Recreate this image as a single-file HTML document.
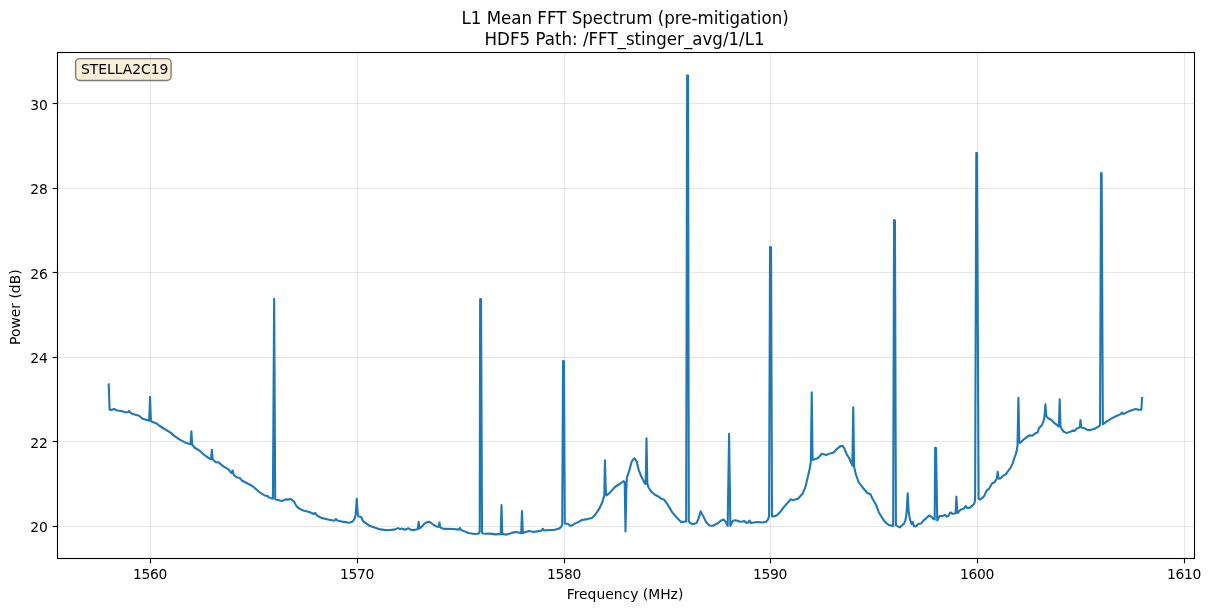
<!DOCTYPE html>
<html lang="en">
<head>
<meta charset="utf-8">
<title>L1 Mean FFT Spectrum (pre-mitigation)</title>
<style>
html,body{margin:0;padding:0;background:#fff;}
body{width:1211px;height:611px;overflow:hidden;}
svg{display:block;}
text{font-family:"DejaVu Sans","Liberation Sans",sans-serif;fill:#000;}
.t10{font-size:13.889px;}
.t12{font-size:16.667px;}
</style>
</head>
<body>
<svg width="1211" height="611" viewBox="0 0 1211 611">
<rect x="0" y="0" width="1211" height="611" fill="#ffffff"/>

<g stroke="#b0b0b0" stroke-opacity="0.3" stroke-width="1.111" fill="none">
<line x1="150.50" y1="52.50" x2="150.50" y2="558.50"/>
<line x1="357.50" y1="52.50" x2="357.50" y2="558.50"/>
<line x1="564.50" y1="52.50" x2="564.50" y2="558.50"/>
<line x1="770.50" y1="52.50" x2="770.50" y2="558.50"/>
<line x1="977.50" y1="52.50" x2="977.50" y2="558.50"/>
<line x1="1184.50" y1="52.50" x2="1184.50" y2="558.50"/>
<line x1="57.50" y1="526.50" x2="1194.50" y2="526.50"/>
<line x1="57.50" y1="441.50" x2="1194.50" y2="441.50"/>
<line x1="57.50" y1="357.50" x2="1194.50" y2="357.50"/>
<line x1="57.50" y1="272.50" x2="1194.50" y2="272.50"/>
<line x1="57.50" y1="188.50" x2="1194.50" y2="188.50"/>
<line x1="57.50" y1="103.50" x2="1194.50" y2="103.50"/>
</g>
<g stroke="#000" stroke-width="1.111" fill="none">
<line x1="150.50" y1="558.50" x2="150.50" y2="563.36"/>
<line x1="357.50" y1="558.50" x2="357.50" y2="563.36"/>
<line x1="564.50" y1="558.50" x2="564.50" y2="563.36"/>
<line x1="770.50" y1="558.50" x2="770.50" y2="563.36"/>
<line x1="977.50" y1="558.50" x2="977.50" y2="563.36"/>
<line x1="1184.50" y1="558.50" x2="1184.50" y2="563.36"/>
<line x1="52.64" y1="526.50" x2="57.50" y2="526.50"/>
<line x1="52.64" y1="441.50" x2="57.50" y2="441.50"/>
<line x1="52.64" y1="357.50" x2="57.50" y2="357.50"/>
<line x1="52.64" y1="272.50" x2="57.50" y2="272.50"/>
<line x1="52.64" y1="188.50" x2="57.50" y2="188.50"/>
<line x1="52.64" y1="103.50" x2="57.50" y2="103.50"/>
</g>
<path d="M108.70 384.40 L109.60 409.80 L111.40 409.90 L113.90 409.00 L117.30 410.50 L122.80 411.20 L123.80 412.10 L127.75 412.30 L129.20 410.90 L130.20 412.70 L132.70 414.10 L139.10 415.80 L142.60 418.80 L148.60 420.40 L149.20 420.60 L150.05 396.70 L150.90 421.00 L151.50 421.60 L156.50 423.40 L159.70 426.00 L170.90 432.90 L174.90 436.40 L179.80 439.60 L185.80 442.80 L189.70 444.10 L190.60 444.30 L191.40 431.40 L192.20 444.70 L194.70 447.75 L199.60 450.70 L204.60 455.20 L209.60 458.70 L210.70 458.90 L211.10 459.00 L211.90 449.70 L212.70 459.40 L213.00 459.60 L215.50 462.10 L218.50 462.40 L223.40 466.40 L228.40 469.40 L230.90 472.50 L231.90 473.00 L232.65 470.40 L233.40 473.80 L234.00 474.90 L236.40 477.30 L239.90 478.10 L241.90 480.50 L252.30 486.00 L258.70 491.50 L264.70 495.50 L267.20 495.90 L268.90 497.40 L272.00 498.60 L272.90 498.80 L274.15 298.70 L275.20 499.00 L275.90 499.40 L279.75 500.50 L282.40 500.90 L286.40 499.20 L287.70 499.70 L290.00 498.90 L292.00 499.80 L294.40 502.10 L296.40 506.10 L299.40 508.60 L303.30 510.50 L309.30 512.00 L313.70 514.00 L315.40 513.00 L317.00 515.50 L320.90 517.70 L327.90 519.50 L334.30 520.70 L336.00 519.00 L337.30 520.50 L343.70 521.90 L349.20 522.70 L352.70 521.50 L354.60 518.70 L355.60 514.70 L356.00 510.00 L356.80 498.90 L357.60 512.00 L358.10 516.20 L361.10 516.90 L363.10 521.20 L366.50 523.65 L369.50 525.80 L374.50 527.40 L380.40 529.40 L387.30 530.30 L394.30 529.60 L398.05 528.10 L400.20 529.10 L402.20 528.60 L404.70 529.80 L408.50 528.30 L411.10 529.90 L414.10 530.10 L417.10 529.30 L417.80 529.00 L418.65 521.80 L419.50 528.50 L420.00 528.00 L421.45 527.15 L424.45 523.60 L427.95 521.80 L429.95 521.95 L433.30 524.70 L436.80 526.70 L438.30 526.70 L438.70 526.80 L439.50 522.60 L440.30 527.30 L440.80 527.70 L443.70 528.90 L453.65 528.95 L458.60 529.60 L459.90 527.90 L461.10 530.10 L464.55 531.40 L468.50 533.00 L474.50 534.00 L477.80 533.70 L479.30 533.00 L479.70 531.00 L480.15 299.10 L481.05 299.30 L482.00 532.60 L482.60 533.20 L483.40 533.40 L485.40 533.80 L490.30 533.60 L495.30 534.40 L499.70 534.10 L500.70 534.20 L501.50 505.05 L502.30 534.20 L503.20 534.10 L505.20 534.60 L509.15 533.90 L512.10 532.60 L516.10 532.10 L520.55 533.10 L521.20 533.10 L522.00 511.00 L522.80 533.00 L523.50 532.70 L528.95 530.90 L533.90 531.90 L541.30 530.70 L543.00 528.80 L544.30 530.50 L549.70 530.05 L554.70 529.85 L559.15 528.60 L561.20 526.90 L562.20 524.80 L563.05 361.10 L563.95 361.30 L564.80 523.50 L565.60 523.60 L567.80 523.70 L569.90 525.60 L572.10 525.50 L574.40 523.70 L576.50 522.90 L579.00 521.70 L581.90 520.00 L587.40 519.10 L591.85 517.90 L595.30 514.70 L599.30 508.70 L602.30 502.30 L604.00 496.35 L604.35 494.50 L604.95 460.20 L605.75 490.50 L606.40 495.40 L609.20 493.40 L612.80 489.50 L614.90 487.00 L619.70 484.00 L623.65 481.20 L624.70 482.50 L625.50 531.60 L626.30 490.00 L626.90 477.60 L629.60 469.60 L631.60 461.70 L634.30 458.20 L636.80 461.70 L638.60 469.60 L641.30 476.50 L644.65 483.00 L645.70 484.00 L646.50 438.40 L647.30 482.00 L647.45 484.00 L648.45 487.50 L650.50 490.50 L651.90 492.30 L654.90 494.80 L658.80 496.80 L661.30 498.80 L664.30 499.80 L667.75 504.70 L672.20 512.20 L676.70 517.60 L681.10 521.90 L684.50 521.60 L686.15 521.40 L687.15 75.40 L688.05 75.60 L688.80 521.50 L689.25 521.80 L690.50 523.30 L693.00 524.30 L696.50 523.10 L698.50 518.60 L700.65 511.20 L703.40 516.60 L706.40 522.60 L709.40 525.55 L712.80 525.75 L717.30 523.60 L720.80 520.80 L723.50 519.50 L725.50 521.60 L727.65 525.90 L729.10 433.90 L730.35 525.90 L732.80 520.90 L734.80 520.30 L737.70 520.75 L739.70 521.70 L742.00 521.75 L744.00 520.90 L746.65 522.90 L748.20 522.60 L749.50 520.50 L750.90 523.10 L756.90 522.00 L762.80 522.50 L766.30 521.70 L768.30 519.05 L769.05 516.00 L770.05 247.00 L771.05 247.20 L772.00 516.30 L772.80 516.60 L776.70 515.60 L779.70 512.60 L784.60 506.20 L790.80 499.20 L792.60 500.20 L798.00 498.70 L802.50 493.80 L805.45 486.80 L807.40 478.80 L809.75 468.50 L810.70 462.70 L810.90 460.50 L811.75 392.40 L812.60 459.30 L813.00 459.70 L817.80 458.20 L821.80 453.80 L826.20 455.00 L829.70 453.60 L833.20 452.80 L836.60 449.30 L840.10 446.35 L842.60 445.90 L844.05 447.80 L847.00 454.80 L849.00 457.75 L851.70 463.70 L852.35 465.80 L853.25 407.30 L854.15 466.50 L854.30 467.70 L855.95 474.60 L858.60 482.00 L862.60 487.50 L867.40 493.00 L870.40 494.30 L872.80 499.30 L875.80 504.20 L878.80 512.20 L881.75 517.10 L884.70 521.60 L888.70 525.05 L892.20 525.80 L893.15 525.90 L894.05 220.10 L894.95 220.40 L895.90 525.20 L897.00 525.90 L899.80 527.40 L902.30 525.00 L903.90 523.80 L905.40 520.30 L906.40 514.50 L906.90 507.00 L907.70 493.30 L908.70 512.70 L910.00 519.60 L911.70 524.05 L912.80 522.10 L914.00 526.50 L916.40 526.00 L918.40 523.85 L920.90 523.55 L923.40 520.60 L926.40 518.10 L929.10 515.40 L931.30 516.60 L933.60 518.90 L934.70 519.50 L935.15 447.70 L936.05 447.90 L937.25 520.40 L939.70 516.00 L942.40 515.90 L944.00 515.50 L944.90 514.80 L946.70 516.60 L948.70 515.60 L950.00 512.70 L951.00 512.40 L952.30 513.70 L954.30 513.60 L955.60 513.20 L956.40 496.50 L957.30 513.00 L958.10 512.70 L960.55 509.70 L964.00 508.60 L965.70 506.10 L967.20 508.10 L969.95 507.65 L972.90 505.05 L974.30 503.30 L975.00 501.00 L975.10 497.00 L976.30 152.90 L977.05 153.10 L978.60 498.60 L979.30 499.30 L980.30 499.40 L983.00 497.40 L984.40 495.60 L986.10 491.60 L987.40 489.80 L988.70 489.20 L992.20 483.20 L994.20 482.55 L996.70 478.80 L997.00 478.00 L997.70 471.70 L998.50 478.30 L998.85 478.60 L1000.60 478.30 L1003.10 475.60 L1005.60 474.60 L1008.60 470.40 L1010.50 467.90 L1012.50 463.90 L1014.00 459.00 L1015.50 455.00 L1016.90 450.00 L1017.50 445.50 L1018.40 397.70 L1019.30 442.50 L1019.90 443.00 L1024.80 438.60 L1029.30 435.40 L1032.25 435.80 L1035.70 433.10 L1037.70 432.60 L1038.90 428.20 L1042.20 424.70 L1044.10 419.20 L1044.60 415.00 L1045.40 404.40 L1046.20 414.50 L1046.60 416.80 L1048.60 418.50 L1051.10 419.70 L1054.55 423.20 L1058.50 426.20 L1058.90 426.60 L1059.70 399.40 L1060.50 426.50 L1061.00 427.70 L1063.50 431.60 L1066.40 432.90 L1069.90 432.10 L1072.40 430.60 L1074.40 430.90 L1076.85 428.45 L1079.30 427.50 L1079.70 427.40 L1080.50 420.10 L1081.30 427.30 L1081.80 427.50 L1084.30 428.20 L1087.30 429.90 L1090.20 430.10 L1094.10 429.05 L1098.80 426.40 L1099.70 425.60 L1100.05 424.50 L1101.00 173.00 L1101.65 173.20 L1102.85 424.30 L1103.40 424.00 L1107.20 421.20 L1112.15 418.15 L1116.90 415.80 L1120.30 414.40 L1121.80 412.65 L1123.30 413.90 L1124.70 413.45 L1129.60 410.90 L1135.60 408.90 L1138.60 409.70 L1141.30 409.70 L1142.10 398.00" fill="none" stroke="#1f77b4" stroke-width="2.083" stroke-linejoin="round" stroke-linecap="square"/>
<rect x="57.50" y="52.50" width="1137.00" height="506.00" fill="none" stroke="#000" stroke-width="1.111" stroke-linejoin="miter"/>
<text class="t10" x="150.00" y="579.3" text-anchor="middle" letter-spacing="-0.35">1560</text>
<text class="t10" x="357.00" y="579.3" text-anchor="middle" letter-spacing="-0.35">1570</text>
<text class="t10" x="564.00" y="579.3" text-anchor="middle" letter-spacing="-0.35">1580</text>
<text class="t10" x="770.00" y="579.3" text-anchor="middle" letter-spacing="-0.35">1590</text>
<text class="t10" x="977.00" y="579.3" text-anchor="middle" letter-spacing="-0.35">1600</text>
<text class="t10" x="1184.00" y="579.3" text-anchor="middle" letter-spacing="-0.35">1610</text>
<text class="t10" x="47.8" y="532.40" text-anchor="end">20</text>
<text class="t10" x="47.8" y="447.82" text-anchor="end">22</text>
<text class="t10" x="47.8" y="363.24" text-anchor="end">24</text>
<text class="t10" x="47.8" y="278.66" text-anchor="end">26</text>
<text class="t10" x="47.8" y="194.08" text-anchor="end">28</text>
<text class="t10" x="47.8" y="109.50" text-anchor="end">30</text>
<text class="t10" x="625.00" y="598.9" text-anchor="middle">Frequency (MHz)</text>
<text class="t10" transform="translate(19.6 307.20) rotate(-90)" text-anchor="middle">Power (dB)</text>
<text class="t12" transform="translate(625.10 23.6) scale(1 1.05)" text-anchor="middle">L1 Mean FFT Spectrum (pre-mitigation)</text>
<text class="t12" transform="translate(624.60 44.7) scale(1 1.05)" text-anchor="middle">HDF5 Path: /FFT_stinger_avg/1/L1</text>
<rect x="75.6" y="58.6" width="95.5" height="21.9" rx="4.17" ry="4.17" fill="#f5deb3" fill-opacity="0.5" stroke="#000" stroke-opacity="0.5" stroke-width="1.389"/>
<text class="t10" x="80.9" y="74.0">STELLA2C19</text>
</svg>
</body>
</html>
